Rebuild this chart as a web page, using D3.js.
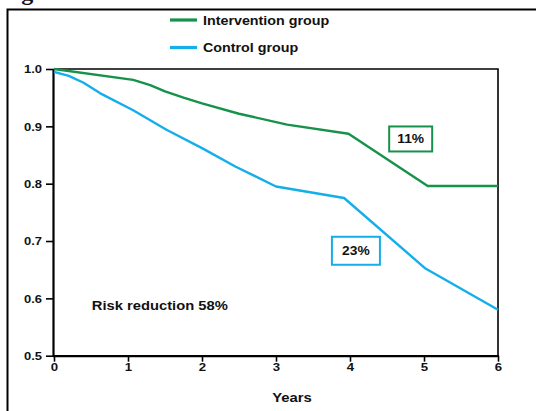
<!DOCTYPE html>
<html><head><meta charset="utf-8">
<script src="https://cdn.jsdelivr.net/npm/d3@7"></script>
<style>
body{margin:0;background:#fff}
svg{display:block}
text{font-family:"Liberation Sans",Arial,sans-serif;font-weight:bold;fill:#111}
</style>
</head><body>
<script>
// ---- data ----
const yearTicks = [0, 1, 2, 3, 4, 5, 6];
const survivalTicks = [0.5, 0.6, 0.7, 0.8, 0.9, 1.0];
const interventionYears = [0, 1.07, 1.3, 1.5, 1.75, 2.0, 2.5, 3.15, 3.98, 5.05, 6];
const interventionValues = [1.0, 0.981, 0.972, 0.961, 0.950, 0.940, 0.922, 0.903, 0.887, 0.796, 0.796];
const controlYears = [0, 0.2, 0.4, 0.62, 1.07, 1.52, 2.0, 2.45, 3.0, 3.92, 5.02, 6];
const controlValues = [0.995, 0.988, 0.976, 0.958, 0.928, 0.894, 0.862, 0.830, 0.795, 0.775, 0.652, 0.580];
const seriesNames = ["Intervention group", "Control group"];
const boxLabels = ["11%", "23%"];
const boxYears = [4.82, 4.08];
const boxValues = [0.878, 0.683];
const noteText = "Risk reduction 58%";
const noteYear = 1.43, noteValue = 0.587;
const xTitle = "Years";
const figTitle = "Figure 1: Incidence of diabetes in the Finnish DPS study group";

const W = 536, H = 411;
const green = "#17924a", blue = "#14aeea";
const SX = 1.18;

const svg = d3.select("body").append("svg").attr("width", W).attr("height", H);

const x = d3.scaleLinear().domain([0, 6]).range([54, 498]);
const y = d3.scaleLinear().domain([0.5, 1.0]).range([355.7, 69]);

// title (cut off at top, as in the reference)
svg.append("text").attr("x", 0).attr("y", 0)
  .style("font-family", '"Liberation Serif","Times New Roman",serif')
  .style("font-size", "24px").text(figTitle);

// outer frame
svg.append("rect").attr("x", 7.5).attr("y", 9.5).attr("width", 600).attr("height", 500)
  .attr("fill", "none").attr("stroke", "#000").attr("stroke-width", 2);

// plot box top/right
svg.append("path").attr("d", `M${x(0)},${y(1)}H${x(6)}V${y(0.5)}`)
  .attr("fill", "none").attr("stroke", "#000").attr("stroke-width", 1.6);

// y axis
const gy = svg.append("g").attr("transform", `translate(${x(0)},0)`)
  .call(d3.axisLeft(y).tickValues(survivalTicks).tickFormat(d3.format(".1f")).tickSize(8).tickPadding(4));
gy.select(".domain").attr("stroke-width", 2.2).attr("d", `M-0.5,${y(1)}V${y(0.5) + 1}`);
gy.selectAll(".tick line").attr("stroke-width", 1.6);
gy.selectAll(".tick text").style("font-size", "11.3px").attr("dy", "0.35em")
  .style("font-family", '"Liberation Sans",Arial,sans-serif');
gy.selectAll(".tick text").each(function () {
  const t = d3.select(this);
  const xx = +t.attr("x");
  t.attr("transform", `translate(${xx},0) scale(1.15,1) translate(${-xx},0)`);
});

// x axis
const gx = svg.append("g").attr("transform", `translate(0,${y(0.5)})`)
  .call(d3.axisBottom(x).tickValues(yearTicks).tickFormat(d3.format("d")).tickSize(6).tickPadding(1));
gx.select(".domain").attr("stroke-width", 2.2).attr("d", `M${x(0) - 1},0.5H${x(6) + 1}`);
gx.selectAll(".tick line").attr("stroke-width", 1.6);
gx.selectAll(".tick text").style("font-size", "11.5px").attr("transform", `scale(1.15,1)`)
  .style("font-family", '"Liberation Sans",Arial,sans-serif');

// x title
svg.append("text").attr("transform", `translate(292,402) scale(1.1,1)`)
  .attr("text-anchor", "middle").style("font-size", "13.5px").text(xTitle);

// lines
const line = d3.line().x(d => x(d[0])).y(d => y(d[1])).curve(d3.curveLinear);
const interv = interventionYears.map((t, i) => [t, interventionValues[i]]);
const ctrl = controlYears.map((t, i) => [t, controlValues[i]]);
svg.append("path").datum(ctrl).attr("d", line).attr("fill", "none")
  .attr("stroke", blue).attr("stroke-width", 2.4).attr("stroke-linejoin", "round");
svg.append("path").datum(interv).attr("d", line).attr("fill", "none")
  .attr("stroke", green).attr("stroke-width", 2.4).attr("stroke-linejoin", "round");

// legend
const legColors = [green, blue];
const legY = [20, 47.5];
seriesNames.forEach((n, i) => {
  svg.append("line").attr("x1", 170).attr("x2", 197).attr("y1", legY[i]).attr("y2", legY[i])
    .attr("stroke", legColors[i]).attr("stroke-width", 3.2);
  svg.append("text").attr("transform", `translate(203,${legY[i]}) scale(1.1,1)`)
    .attr("dy", "0.36em").style("font-size", "13px").text(n);
});

// boxes
const boxW = [43, 48], boxH = [25, 28];
boxLabels.forEach((lab, i) => {
  const cx = x(boxYears[i]), cy = y(boxValues[i]);
  svg.append("rect").attr("x", cx - boxW[i] / 2).attr("y", cy - boxH[i] / 2)
    .attr("width", boxW[i]).attr("height", boxH[i]).attr("fill", "#fff")
    .attr("stroke", legColors[i]).attr("stroke-width", 2);
  svg.append("text").attr("transform", `translate(${cx},${cy}) scale(1.15,1)`)
    .attr("text-anchor", "middle").attr("dy", "0.36em").style("font-size", "12px").text(lab);
});

// note
svg.append("text").attr("transform", `translate(${x(noteYear)},${y(noteValue)}) scale(1.18,1)`)
  .attr("text-anchor", "middle").attr("dy", "0.36em").style("font-size", "12.5px").text(noteText);
</script>
</body></html>
